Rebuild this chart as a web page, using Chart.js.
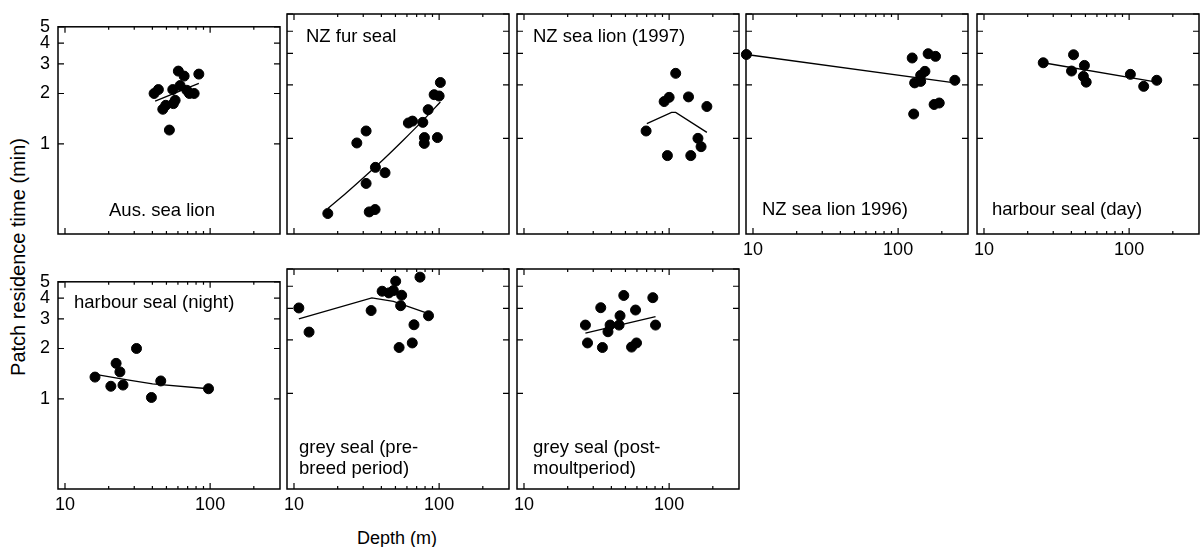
<!DOCTYPE html>
<html>
<head>
<meta charset="utf-8">
<script src="https://cdn.jsdelivr.net/npm/chart.js@4.4.0/dist/chart.umd.min.js"></script>
<style>
  html, body { margin: 0; padding: 0; background: #fff; }
  body { width: 1200px; height: 547px; position: relative; overflow: hidden; font-family: 'Liberation Sans', Arial, sans-serif; color: #000; }
  .panel { position: absolute; }
  .ytitle { position: absolute; left: 18px; top: 257px; transform: translate(-50%, -50%) rotate(-90deg); font-size: 20px; white-space: nowrap; }
  .xtitle { position: absolute; left: 397px; top: 538px; transform: translate(-50%, -50%); font-size: 18px; white-space: nowrap; }
</style>
</head>
<body>
<div class="ytitle">Patch residence time (min)</div>
<div class="xtitle">Depth (m)</div>
<script>
// tick values shared by all panels
const xMajorTicks = [10, 100];
const xMinorTicks = [20, 30, 40, 50, 60, 70, 80, 90, 200];
const yTicks = [1, 2, 3, 4, 5];

// Aus. sea lion
const ausDepth = [41.1, 44.0, 60.4, 66.2, 83.6, 55.3, 62.1, 69.1, 77.6, 72.0, 49.5, 47.2, 55.8, 57.4, 52.4];
const ausTime = [2.0, 2.11, 2.72, 2.54, 2.61, 2.11, 2.23, 2.09, 2.0, 2.0, 1.70, 1.61, 1.74, 1.82, 1.21];
const ausFitDepth = [41.8, 83.6];
const ausFitTime = [1.80, 2.30];

// NZ fur seal
const furDepth = [17.1, 33.0, 36.2, 27.1, 31.4, 31.4, 36.4, 42.4, 61.4, 65.5, 77.2, 79.2, 79.0, 97.3, 84.0, 92.4, 100, 102];
const furTime = [0.378, 0.386, 0.398, 0.942, 1.10, 0.558, 0.687, 0.641, 1.22, 1.25, 1.23, 1.01, 0.937, 1.01, 1.45, 1.76, 1.73, 2.06];
const furFitDepth = [17.1, 23.1, 31.7, 41.8, 56.8, 78.0, 102];
const furFitTime = [0.403, 0.496, 0.624, 0.768, 0.979, 1.27, 1.60];

// NZ sea lion (1997)
const nzsl97Depth = [69.4, 97.3, 141, 158, 166, 92.4, 100, 136, 182, 111];
const nzsl97Time = [1.10, 0.80, 0.80, 1.0, 0.898, 1.61, 1.70, 1.71, 1.51, 2.32];
const nzsl97FitDepth = [70.2, 104, 111, 182];
const nzsl97FitTime = [1.21, 1.40, 1.40, 1.08];

// NZ sea lion 1996
const nzsl96Depth = [9.0, 125, 161, 181, 153, 143, 130, 143, 246, 177, 192, 128];
const nzsl96Time = [2.96, 2.83, 2.99, 2.89, 2.38, 2.26, 2.05, 2.09, 2.12, 1.55, 1.58, 1.37];
const nzsl96FitDepth = [9.0, 246];
const nzsl96FitTime = [2.96, 2.05];

// harbour seal (day)
const hsDayDepth = [25.6, 41.4, 40.1, 49.2, 48.4, 50.6, 102, 126, 155];
const hsDayTime = [2.66, 2.95, 2.39, 2.57, 2.23, 2.07, 2.29, 1.96, 2.12];
const hsDayFitDepth = [25.6, 155];
const hsDayFitTime = [2.66, 2.07];

// harbour seal (night)
const hsNightDepth = [16.1, 20.7, 22.5, 23.9, 25.1, 31.1, 39.4, 45.7, 97.5];
const hsNightTime = [1.35, 1.19, 1.63, 1.45, 1.21, 2.0, 1.02, 1.28, 1.15];
const hsNightFitDepth = [16.2, 26.9, 40.1, 97.5];
const hsNightFitTime = [1.40, 1.30, 1.23, 1.15];

// grey seal (pre-breed period)
const gsPreDepth = [10.8, 12.7, 34.0, 40.5, 45.0, 48.4, 50.2, 55.2, 54.3, 73.8, 84.5, 67.1, 65.3, 53.0];
const gsPreTime = [3.02, 2.21, 2.92, 3.75, 3.67, 3.78, 4.27, 3.56, 3.11, 4.50, 2.73, 2.43, 1.92, 1.81];
const gsPreFitDepth = [10.8, 34.4, 48.4, 79.8];
const gsPreFitTime = [2.62, 3.44, 3.29, 2.85];

// grey seal (post-moult period)
const gsPostDepth = [26.5, 27.4, 33.8, 34.7, 37.9, 39.2, 45.2, 45.9, 48.7, 58.7, 55.1, 59.6, 77.2, 80.6];
const gsPostTime = [2.42, 1.92, 3.03, 1.81, 2.22, 2.42, 2.42, 2.73, 3.55, 2.94, 1.82, 1.92, 3.45, 2.42];
const gsPostFitDepth = [26.5, 80.6];
const gsPostFitTime = [2.18, 2.70];

const FONT = "'Liberation Sans', Arial, sans-serif";
const PW = 222, PH = 220;
const colLeft = [58, 287, 517, 746, 977];
const rowTop = [14, 269];

const panels = [
  { col: 0, row: 0, label: ['Aus. sea lion'], lx: 51, ly: 184, xs: ausDepth, ys: ausTime, fx: ausFitDepth, fy: ausFitTime, yLab: true, xLab: false },
  { col: 1, row: 0, label: ['NZ fur seal'], lx: 19, ly: 23, xs: furDepth, ys: furTime, fx: furFitDepth, fy: furFitTime, yLab: false, xLab: false, smooth: true },
  { col: 2, row: 0, label: ['NZ sea lion (1997)'], lx: 16, ly: 23, xs: nzsl97Depth, ys: nzsl97Time, fx: nzsl97FitDepth, fy: nzsl97FitTime, yLab: false, xLab: false },
  { col: 3, row: 0, label: ['NZ sea lion 1996)'], lx: 16, ly: 196, xs: nzsl96Depth, ys: nzsl96Time, fx: nzsl96FitDepth, fy: nzsl96FitTime, yLab: false, xLab: true },
  { col: 4, row: 0, label: ['harbour seal (day)'], lx: 15, ly: 196, xs: hsDayDepth, ys: hsDayTime, fx: hsDayFitDepth, fy: hsDayFitTime, yLab: false, xLab: true },
  { col: 0, row: 1, label: ['harbour seal (night)'], lx: 16, ly: 21, xs: hsNightDepth, ys: hsNightTime, fx: hsNightFitDepth, fy: hsNightFitTime, yLab: true, xLab: true },
  { col: 1, row: 1, label: ['grey seal (pre-', 'breed period)'], lx: 12, ly: 179, xs: gsPreDepth, ys: gsPreTime, fx: gsPreFitDepth, fy: gsPreFitTime, yLab: false, xLab: true },
  { col: 2, row: 1, label: ['grey seal (post-', 'moultperiod)'], lx: 16, ly: 179, xs: gsPostDepth, ys: gsPostTime, fx: gsPostFitDepth, fy: gsPostFitTime, yLab: false, xLab: true }
];

// frame, inward tick marks and the panel caption
const framePlugin = {
  id: 'frame',
  afterDraw(chart, args, opts) {
    const { ctx, chartArea: a } = chart;
    const x = chart.scales.x, y = chart.scales.y;
    ctx.save();
    ctx.strokeStyle = '#000';
    ctx.lineWidth = 1.5;
    ctx.strokeRect(a.left, a.top, a.right - a.left, a.bottom - a.top);
    ctx.lineWidth = 1.2;
    ctx.beginPath();
    const tickX = (vals, len) => vals.forEach(v => {
      const px = x.getPixelForValue(v);
      ctx.moveTo(px, a.bottom); ctx.lineTo(px, a.bottom - len);
      ctx.moveTo(px, a.top); ctx.lineTo(px, a.top + len);
    });
    tickX(xMajorTicks, 6);
    tickX(xMinorTicks, 3);
    yTicks.forEach(v => {
      const py = y.getPixelForValue(v);
      ctx.moveTo(a.left, py); ctx.lineTo(a.left + 6, py);
      ctx.moveTo(a.right, py); ctx.lineTo(a.right - 6, py);
    });
    ctx.stroke();
    ctx.fillStyle = '#000';
    ctx.font = '18.5px ' + FONT;
    ctx.textBaseline = 'middle';
    ctx.textAlign = 'left';
    opts.label.forEach((t, i) => ctx.fillText(t, a.left + opts.lx, a.top + opts.ly + i * 21));
    ctx.restore();
  }
};

panels.forEach(p => {
  const box = document.createElement('div');
  box.className = 'panel';
  box.style.left = (colLeft[p.col] - 50) + 'px';
  box.style.top = (rowTop[p.row] - 6) + 'px';
  box.style.width = (PW + 56) + 'px';
  box.style.height = (PH + 40) + 'px';
  const canvas = document.createElement('canvas');
  box.appendChild(canvas);
  document.body.appendChild(box);

  new Chart(canvas, {
    type: 'scatter',
    data: {
      datasets: [
        {
          data: p.xs.map((d, i) => ({ x: d, y: p.ys[i] })),
          backgroundColor: '#000',
          borderColor: '#000',
          pointRadius: 5,
          pointHoverRadius: 5,
          clip: false
        },
        {
          data: p.fx.map((d, i) => ({ x: d, y: p.fy[i] })),
          showLine: true,
          borderColor: '#000',
          borderWidth: 1.3,
          pointRadius: 0,
          tension: p.smooth ? 0.3 : 0,
          fill: false,
          clip: false
        }
      ]
    },
    options: {
      responsive: true,
      maintainAspectRatio: false,
      animation: false,
      events: [],
      layout: { padding: { left: 0, top: 6, right: 6, bottom: 0 } },
      plugins: {
        legend: { display: false },
        tooltip: { enabled: false },
        frame: { label: p.label, lx: p.lx, ly: p.ly }
      },
      scales: {
        x: {
          type: 'logarithmic',
          min: 8.95,
          max: 303,
          grid: { display: false, drawTicks: false },
          border: { display: false },
          ticks: {
            display: p.xLab,
            autoSkip: false,
            maxRotation: 0,
            padding: 5,
            color: '#000',
            font: { size: 18, family: FONT },
            callback: v => String(v)
          },
          afterBuildTicks: s => { s.ticks = xMajorTicks.map(v => ({ value: v })); },
          afterFit: s => { s.height = 34; }
        },
        y: {
          type: 'logarithmic',
          min: 0.29,
          max: 5,
          grid: { display: false, drawTicks: false },
          border: { display: false },
          ticks: {
            display: p.yLab,
            autoSkip: false,
            padding: 8,
            color: '#000',
            font: { size: 18, family: FONT },
            callback: v => String(v)
          },
          afterBuildTicks: s => { s.ticks = yTicks.map(v => ({ value: v })); },
          afterFit: s => { s.width = 50; }
        }
      }
    },
    plugins: [framePlugin]
  });
});
</script>
</body>
</html>
